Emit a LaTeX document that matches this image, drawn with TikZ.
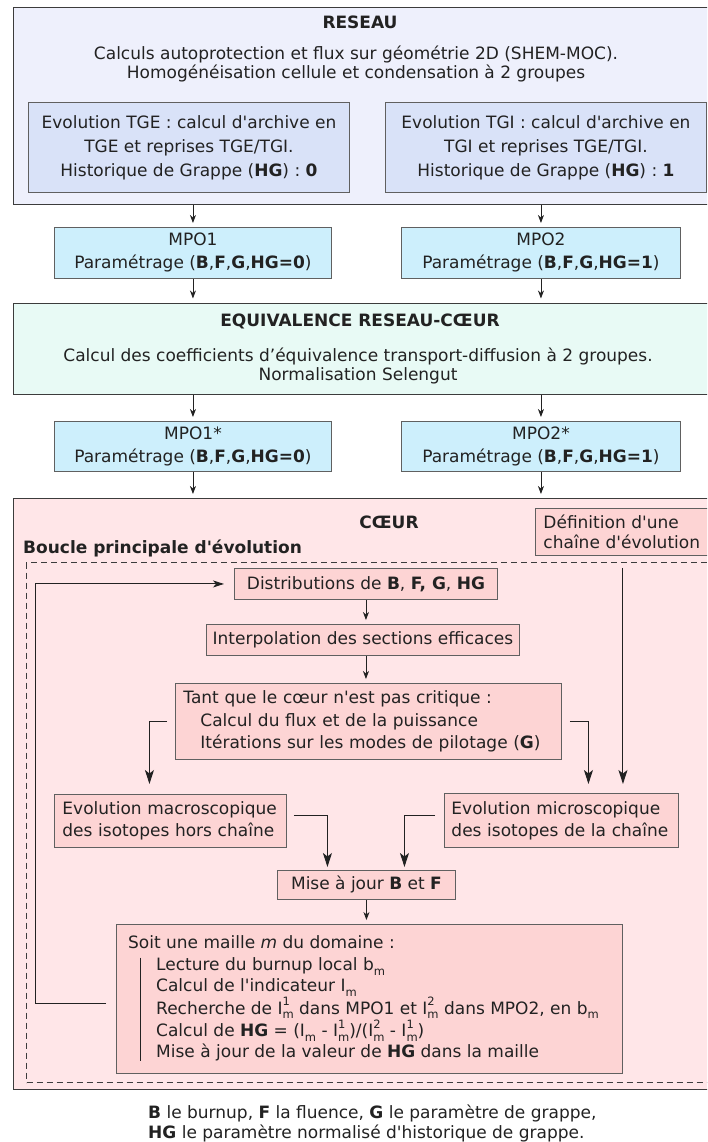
\documentclass[tikz,border=0pt]{standalone}
\usepackage{fontspec}
\setmainfont{DejaVu Sans}[Ligatures=TeXOff]
\usetikzlibrary{arrows.meta}
\definecolor{reseaubg}{HTML}{EEF0FC}
\definecolor{tgebg}{HTML}{D9E2F8}
\definecolor{mpobg}{HTML}{CDEFFC}
\definecolor{eqbg}{HTML}{E8FAF5}
\definecolor{coeurbg}{HTML}{FFE6E8}
\definecolor{pinkbox}{HTML}{FDD4D4}
\definecolor{edge}{HTML}{3C3C3C}
\definecolor{inedge}{HTML}{606060}
\definecolor{ink}{HTML}{222222}
\newcommand\smallidx[1]{{\fontsize{11.5}{11.5}\selectfont #1}}
\newcommand\IMsub{I\raisebox{-0.28em}{\smallidx{m}}}
\newcommand\IMsupsub[1]{I\rlap{\raisebox{0.5em}{\smallidx{#1}}}\raisebox{-0.28em}{\smallidx{m}}}
\newcommand\BMsub{b\raisebox{-0.28em}{\smallidx{m}}}
\begin{document}
\begin{tikzpicture}[x=1pt,y=-1pt,
  txt/.style={font=\fontsize{17}{21}\selectfont, text=ink, inner sep=0pt},
  btxt/.style={font=\fontsize{17}{21}\selectfont\bfseries, text=ink, inner sep=0pt},
  outerbox/.style={draw=edge, line width=1pt, anchor=north west, inner sep=0pt},
  inbox/.style={draw=inedge, line width=0.9pt, anchor=north west, inner sep=0pt,
    font=\fontsize{17}{23}\selectfont, text=ink, align=center},
  sarrow/.style={draw=ink, line width=0.8pt, -{Stealth[length=8pt,width=6pt,inset=2.5pt]}, shorten >=4pt},
  barrow/.style={draw=ink, line width=1pt, -{Stealth[length=14pt,width=9pt,inset=3.5pt]}},
  marrow/.style={draw=ink, line width=1pt, -{Stealth[length=11pt,width=7pt,inset=3pt]}},
]
\fill[white] (0,0) rectangle (707,1142);
\useasboundingbox (0,0) rectangle (707,1142);
\clip (0,0) rectangle (707,1142);

% ---------- RESEAU ----------
\node[outerbox, fill=reseaubg, minimum width=710pt, minimum height=196.5pt] (reseau) at (12.5,7) {};
\node[btxt] (reseautitle) at (360,22) {RESEAU};
\node[txt, align=center, font=\fontsize{17}{19.5}\selectfont] (reseaudesc) at (356,64) {Calculs autoprotection et flux sur géométrie 2D (SHEM-MOC).\\Homogénéisation cellule et condensation à 2 groupes};
\node[inbox, fill=tgebg, minimum width=321pt, minimum height=90pt, font=\fontsize{17}{24}\selectfont] (tge) at (28,102) {Evolution TGE : calcul d'archive en\\TGE et reprises TGE/TGI.\\Historique de Grappe (\textbf{HG}) : \textbf{0}};
\node[inbox, fill=tgebg, minimum width=321pt, minimum height=90pt, font=\fontsize{17}{24}\selectfont] (tgi) at (385,102) {Evolution TGI : calcul d'archive en\\TGI et reprises TGE/TGI.\\Historique de Grappe (\textbf{HG}) : \textbf{1}};

% ---------- MPO ----------
\node[inbox, fill=mpobg, minimum width=277pt, minimum height=51pt] (mpo1) at (54,227) {MPO1\\Paramétrage (\textbf{B},\textbf{F},\textbf{G},\textbf{HG=0})};
\node[inbox, fill=mpobg, minimum width=279pt, minimum height=51pt] (mpo2) at (401,227) {MPO2\\Paramétrage (\textbf{B},\textbf{F},\textbf{G},\textbf{HG=1})};
\draw[sarrow] (reseau.south -| mpo1.north) -- (mpo1.north);
\draw[sarrow] (reseau.south -| mpo2.north) -- (mpo2.north);

% ---------- EQUIVALENCE ----------
\node[outerbox, fill=eqbg, minimum width=710pt, minimum height=91pt] (eq) at (12.5,302.5) {};
\node[btxt] (eqtitle) at (360,321) {EQUIVALENCE RESEAU-CŒUR};
\node[txt, align=center, font=\fontsize{17}{19}\selectfont] (eqdesc) at (358,366) {Calcul des coefficients d’équivalence transport-diffusion à 2 groupes.\\Normalisation Selengut};
\draw[sarrow] (mpo1.south) -- (mpo1.south |- eq.north);
\draw[sarrow] (mpo2.south) -- (mpo2.south |- eq.north);

% ---------- MPO* ----------
\node[inbox, fill=mpobg, minimum width=277pt, minimum height=50pt] (mpo1s) at (54,421) {MPO1*\\Paramétrage (\textbf{B},\textbf{F},\textbf{G},\textbf{HG=0})};
\node[inbox, fill=mpobg, minimum width=279pt, minimum height=50pt] (mpo2s) at (401,421) {MPO2*\\Paramétrage (\textbf{B},\textbf{F},\textbf{G},\textbf{HG=1})};
\draw[sarrow] (eq.south -| mpo1s.north) -- (mpo1s.north);
\draw[sarrow] (eq.south -| mpo2s.north) -- (mpo2s.north);

% ---------- COEUR ----------
\node[outerbox, fill=coeurbg, minimum width=710pt, minimum height=591pt] (coeur) at (12.5,498) {};
\draw[sarrow] (mpo1s.south) -- (mpo1s.south |- coeur.north);
\draw[sarrow] (mpo2s.south) -- (mpo2s.south |- coeur.north);
\node[btxt] (coeurtitle) at (389,522) {CŒUR};
\node[inbox, fill=pinkbox, minimum width=175pt, minimum height=47pt, align=left, text width=159pt, font=\fontsize{17}{20}\selectfont] (def) at (535,508) {Définition d'une\\chaîne d'évolution};
\node[btxt, anchor=west] (boucle) at (23,548) {Boucle principale d'évolution};
\node[draw=edge, line width=1pt, dash pattern=on 6pt off 4pt, anchor=north west, inner sep=0pt, minimum width=690pt, minimum height=520pt] (loop) at (26,562) {};

\node[inbox, fill=pinkbox, minimum width=263pt, minimum height=31pt] (dist) at (234,568) {Distributions de \textbf{B}, \textbf{F, G}, \textbf{HG}};
\node[inbox, fill=pinkbox, minimum width=313pt, minimum height=31pt] (interp) at (206,624) {Interpolation des sections efficaces};
\node[inbox, fill=pinkbox, minimum width=386pt, minimum height=76pt, align=left, text width=370pt, font=\fontsize{17}{22.5}\selectfont] (tq) at (175,683) {Tant que le cœur n'est pas critique :\\\hspace*{17pt}Calcul du flux et de la puissance\\\hspace*{17pt}Itérations sur les modes de pilotage (\textbf{G})};
\node[inbox, fill=pinkbox, minimum width=232pt, minimum height=53pt, align=left, text width=216pt, font=\fontsize{17}{22}\selectfont] (macro) at (54,794) {Evolution macroscopique\\des isotopes hors chaîne};
\node[inbox, fill=pinkbox, minimum width=234pt, minimum height=54pt, align=left, text width=220pt, font=\fontsize{17}{22}\selectfont] (micro) at (444,793) {Evolution microscopique\\des isotopes de la chaîne};
\node[inbox, fill=pinkbox, minimum width=178pt, minimum height=29pt] (mise) at (277,870) {Mise à jour \textbf{B} et \textbf{F}};
\node[inbox, fill=pinkbox, minimum width=506pt, minimum height=149pt] (soit) at (116,924) {};
\node[txt, anchor=west] (soithead) at (128,942) {Soit une maille \textit{m} du domaine :};
\node[txt, anchor=west, align=left, font=\fontsize{17}{20.75}\selectfont] (soitlines) at (156,1009.5) {Lecture du burnup local \BMsub\\Calcul de l'indicateur \IMsub\\Recherche de \IMsupsub{1} dans MPO1 et \IMsupsub{2} dans MPO2, en \BMsub\\Calcul de \textbf{HG} = (\IMsub{} - \IMsupsub{1})/(\IMsupsub{2} - \IMsupsub{1})\\Mise à jour de la valeur de \textbf{HG} dans la maille};
\draw[ink, line width=1pt] ([xshift=-16pt]soitlines.north west) -- ([xshift=-16pt]soitlines.south west);

% connectors in the loop
\draw[sarrow] (dist.south) -- (dist.south |- interp.north);
\draw[sarrow] (dist.south |- interp.south) -- (dist.south |- tq.north);
\draw[barrow, shorten >=10pt] ([xshift=-8pt]tq.west) -| ([xshift=-21pt]macro.north);
\draw[barrow, shorten >=9pt] ([xshift=8pt]tq.east) -| ([xshift=27pt]micro.north);
\draw[barrow, shorten <=12pt, shorten >=9pt] (def.south) -- (def.south |- micro.north);
\draw[barrow, shorten >=3pt] ([xshift=7pt,yshift=5pt]macro.east) -| ([xshift=-39pt]mise.north);
\draw[barrow, shorten >=3pt] ([xshift=-9pt,yshift=5pt]micro.west) -| ([xshift=38pt]mise.north);
\draw[sarrow] (mise.south) -- (mise.south |- soit.north);
\coordinate (loopx) at (35,0);
\draw[marrow, shorten >=10pt] ([xshift=-10pt,yshift=-4.5pt]soit.west) -| (loopx |- dist.west) -- (dist.west);

% ---------- footer ----------
\node[txt, anchor=west, align=left, font=\fontsize{17}{20}\selectfont] (footer) at (148,1123) {\textbf{B} le burnup, \textbf{F} la fluence, \textbf{G} le paramètre de grappe,\\\textbf{HG} le paramètre normalisé d'historique de grappe.};
\end{tikzpicture}
\end{document}
